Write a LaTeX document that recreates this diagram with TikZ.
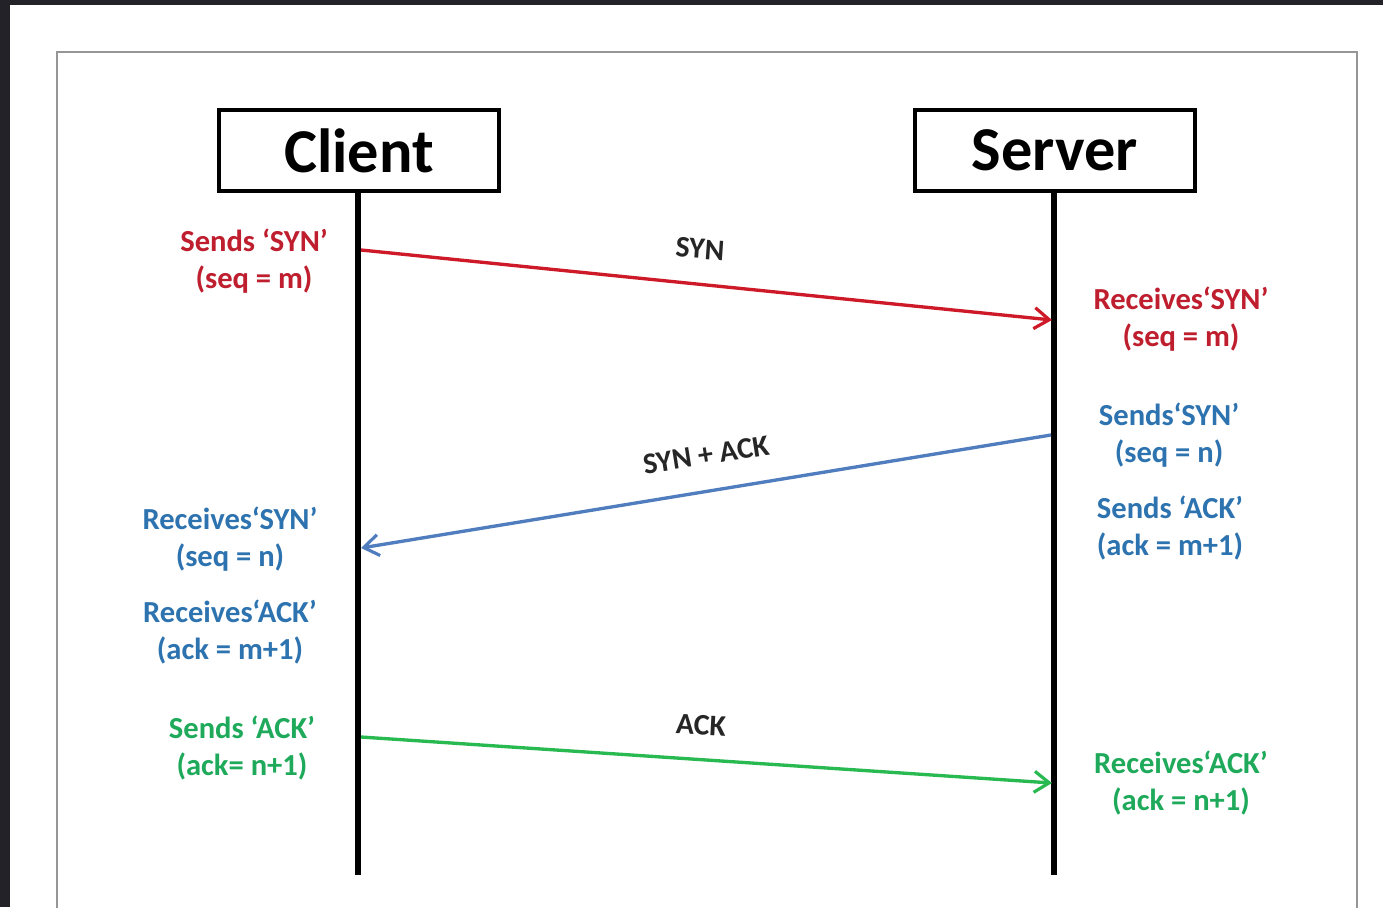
\documentclass[tikz,border=0pt]{standalone}
\usepackage{fontspec}
\setmainfont{Carlito}
\usetikzlibrary{arrows.meta}
\definecolor{bgdark}{RGB}{34,34,40}
\definecolor{framegray}{RGB}{150,150,150}
\definecolor{txtred}{RGB}{190,30,45}
\definecolor{txtblue}{RGB}{45,115,175}
\definecolor{txtgreen}{RGB}{30,170,90}
\definecolor{arrred}{RGB}{205,25,40}
\definecolor{arrblue}{RGB}{80,125,190}
\definecolor{arrgreen}{RGB}{40,185,80}
\tikzset{
  hostbox/.style={draw=black, line width=2.3pt, fill=white, minimum width=5.6cm, minimum height=1.62cm, inner sep=0pt, font=\fontsize{35.5}{40}\selectfont\bfseries},
  lifeline/.style={line width=3.4pt, black},
  msg/.style={line width=1.9pt, -{Straight Barb[length=3mm,width=4.2mm,line width=1.8pt]}},
  note/.style={align=center, inner sep=0pt, font=\fontsize{17.4}{21}\selectfont\bfseries},
  msglabel/.style={inner sep=0pt, font=\fontsize{17}{19}\selectfont\bfseries, text=black!85}
}
\begin{document}
\begin{tikzpicture}[x=0.02cm,y=-0.02cm]
\useasboundingbox (0,0) rectangle (1383,907);
\fill[bgdark] (0,0) rectangle (1383,907);
\fill[white] (10,5) rectangle (1383,907);
\draw[framegray, line width=1.2pt] (57,915) -- (57,52) -- (1357,52) -- (1357,915);

\node[hostbox] (client) at (359,150.5) {Client};
\node[hostbox] (server) at (1055,150.5) {Server};

\coordinate (cend) at (358,875);
\coordinate (send) at (1054,875);
\draw[lifeline] (client.south -| cend) -- (cend);
\draw[lifeline] (server.south -| send) -- (send);

\coordinate (c1) at (361,250);
\coordinate (s1) at (1052,320);
\coordinate (s2) at (1051,435);
\coordinate (c2) at (361,548);
\coordinate (c3) at (361,737);
\coordinate (s3) at (1052,783);

\draw[msg, arrred] (c1) -- (s1);
\draw[msg, arrblue] (s2) -- (c2);
\draw[msg, arrgreen] (c3) -- (s3);

\node[msglabel, rotate=-4] (l1) at (700,249) {SYN};
\node[msglabel, rotate=9] (l2) at (706,455) {SYN + ACK};
\node[msglabel, rotate=-3] (l3) at (701,725) {ACK};

\node[note, text=txtred] (n1) at (254,261) {Sends ‘SYN’\\(seq = m)};
\node[note, text=txtred] (n2) at (1181,319) {Receives‘SYN’\\(seq = m)};
\node[note, text=txtblue] (n3) at (1169,435) {Sends‘SYN’\\(seq = n)};
\node[note, text=txtblue] (n4) at (1170,528) {Sends ‘ACK’\\(ack = m+1)};
\node[note, text=txtblue] (n5) at (230,539) {Receives‘SYN’\\(seq = n)};
\node[note, text=txtblue] (n6) at (230,632) {Receives‘ACK’\\(ack = m+1)};
\node[note, text=txtgreen] (n7) at (242,748) {Sends ‘ACK’\\(ack= n+1)};
\node[note, text=txtgreen] (n8) at (1181,783) {Receives‘ACK’\\(ack = n+1)};
\end{tikzpicture}
\end{document}
